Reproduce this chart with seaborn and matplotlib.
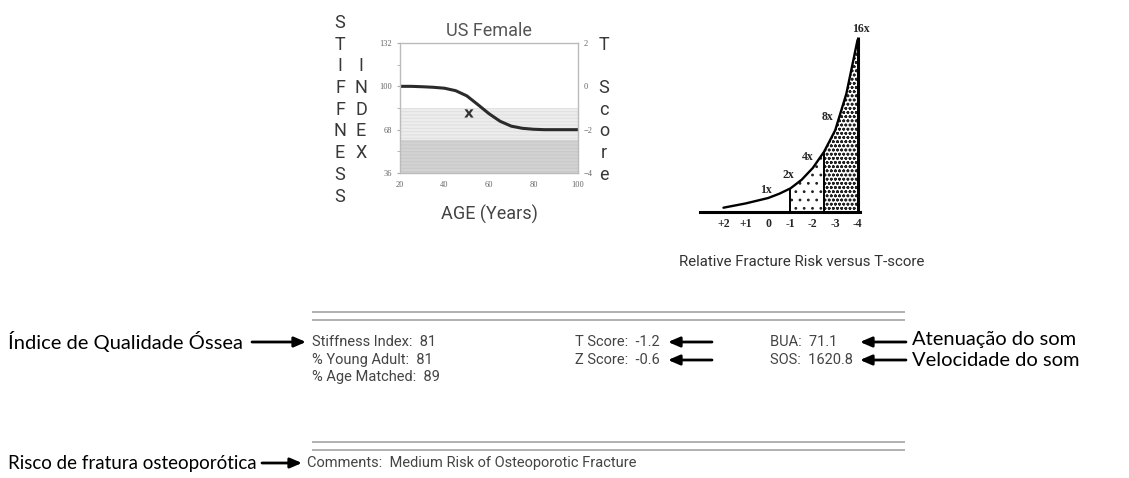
import matplotlib
matplotlib.use("Agg")
import matplotlib.pyplot as plt
from matplotlib import font_manager
import seaborn as sns

# --- reference curve of the stiffness index (US female) ---
ref_age = [20, 25, 30, 35, 40, 45, 50, 55, 60, 65, 70, 75, 80, 85, 90, 95, 100]
ref_stiffness = [100, 100, 99.7, 99.3, 98.6, 96.8, 93, 86.5, 79.8, 74.2, 70.6, 69, 68.3, 68, 68, 68, 68]
patient_age = [51]
patient_stiffness = [80]
stiff_ticks = [36, 68, 100, 132]
age_ticks = [20, 40, 60, 80, 100]
tscore_ticks = [-4, -2, 0, 2]
osteopenia_band = (60, 84)
osteoporosis_band = (36, 60)

# --- relative fracture risk versus T-score ---
risk_t = [2, 1.5, 1, 0.5, 0, -0.5, -1, -1.5, -2, -2.5, -3, -3.5, -4]
risk_val = [0.4, 0.6, 0.8, 1.05, 1.3, 1.7, 2.2, 3.0, 4.1, 5.6, 7.6, 11.0, 16.0]
risk_tick_t = [2, 1, 0, -1, -2, -3, -4]
risk_tick_labels = ["+2", "+1", "0", "-1", "-2", "-3", "-4"]
risk_mark_t = [0.1, -0.9, -1.75, -2.65, -4.15]
risk_mark_val = [2.0, 3.4, 5.1, 8.8, 17.0]
risk_mark_labels = ["1x", "2x", "4x", "8x", "16x"]

# --- report values ---
col1_labels = ["Stiffness Index:", "% Young Adult:", "% Age Matched:"]
col1_values = ["81", "81", "89"]
col2_labels = ["T Score:", "Z Score:"]
col2_values = ["-1.2", "-0.6"]
col3_labels = ["BUA:", "SOS:"]
col3_values = ["71.1", "1620.8"]
comment_text = "Comments:  Medium Risk of Osteoporotic Fracture"
note_index = "Índice de Qualidade Óssea"
note_bua = "Atenuação do som"
note_sos = "Velocidade do som"
note_risk = "Risco de fratura osteoporótica"

W, H = 1129, 478

sns.set_style("white")
avail = {f.name for f in font_manager.fontManager.ttflist}
NARROW = "Liberation Sans Narrow" if "Liberation Sans Narrow" in avail else "Roboto"
CALIBRI = "Lato" if "Lato" in avail else "Open Sans"
SERIF = "Liberation Serif"
plt.rcParams["font.family"] = [NARROW, "DejaVu Sans"]
plt.rcParams["hatch.linewidth"] = 0.8

fig = plt.figure(figsize=(W / 100, H / 100), dpi=100)


def px_axes(left, top, right, bottom):
    return fig.add_axes([left / W, 1 - bottom / H, (right - left) / W, (bottom - top) / H])


# overlay in pixel coordinates for the text of the report
bg = fig.add_axes([0, 0, 1, 1])
bg.set_xlim(0, W)
bg.set_ylim(H, 0)
bg.axis("off")

# ---------------- left chart ----------------
ax = px_axes(400, 43, 578, 173)
ax.axhspan(*osteopenia_band, facecolor="#ededed", edgecolor="#e0e0e0", hatch="-----", lw=0)
ax.axhspan(*osteoporosis_band, facecolor="#d3d3d3", edgecolor="#cacaca", hatch="-----", lw=0)
sns.lineplot(x=ref_age, y=ref_stiffness, ax=ax, color="#2b2b2b", lw=2.2)
sns.scatterplot(x=patient_age, y=patient_stiffness, ax=ax, marker=r"$\mathbf{x}$",
                s=45, color="#333333", edgecolor="none")
ax.set_xlim(20, 100)
ax.set_ylim(36, 132)
ax.set_xticks(age_ticks)
ax.set_xticks(range(20, 101, 10), minor=True)
ax.set_yticks(stiff_ticks)
ax.set_yticks(range(36, 133, 16), minor=True)
for s in ax.spines.values():
    s.set_color("#bbbbbb")
    s.set_linewidth(1.0)
ax.tick_params(which="both", length=2.5, color="#aaaaaa", labelsize=6,
               labelcolor="#666666", pad=3)
for lab in ax.get_xticklabels() + ax.get_yticklabels():
    lab.set_family(SERIF)
ax.set_title("US Female", fontsize=13, color="#555555", pad=5)
ax.set_xlabel("AGE (Years)", fontsize=13, color="#444444", labelpad=12)

ax2 = ax.twinx()
ax2.set_ylim(-4, 2)
ax2.set_yticks(tscore_ticks)
ax2.tick_params(length=0, labelsize=6, labelcolor="#666666", pad=4)
for lab in ax2.get_yticklabels():
    lab.set_family(SERIF)
for s in ax2.spines.values():
    s.set_visible(False)

row0, step = 23, 21.7
letter_kw = dict(fontsize=13, color="#383838", ha="center", va="center")
for i, ch in enumerate("STIFFNESS"):
    bg.text(340, row0 + i * step, ch, **letter_kw)
for i, ch in enumerate("INDEX"):
    bg.text(361, row0 + (i + 2) * step, ch, **letter_kw)
for i, ch in enumerate("T Score"):
    bg.text(604, row0 + (i + 1) * step, ch, **letter_kw)

# ---------------- right chart ----------------
rx = px_axes(700, 20, 862, 212)
rx.set_xlim(3.05, -4.2)
rx.set_ylim(0, 17.86)
sel1 = [i for i, t in enumerate(risk_t) if -2.5 <= t <= -1]
sel2 = [i for i, t in enumerate(risk_t) if -4 <= t <= -2.5]
rx.fill_between([risk_t[i] for i in sel1], [risk_val[i] for i in sel1], 0,
                facecolor="white", edgecolor="#222222", hatch="..", lw=0)
rx.fill_between([risk_t[i] for i in sel2], [risk_val[i] for i in sel2], 0,
                facecolor="white", edgecolor="#222222", hatch="oooo", lw=0)
sns.lineplot(x=risk_t, y=risk_val, ax=rx, color="black", lw=1.7, sort=False)
rx.vlines([risk_t[i] for i in (sel1[0], sel2[0])],
          0, [risk_val[i] for i in (sel1[0], sel2[0])], color="black", lw=1.4)
rx.vlines(risk_t[-1], 0, risk_val[-1] * 1.02, color="black", lw=2.2)
for s in ["top", "right", "left"]:
    rx.spines[s].set_visible(False)
rx.spines["bottom"].set_bounds(-4.1, 3.05)
rx.spines["bottom"].set_linewidth(2.2)
rx.spines["bottom"].set_color("black")
rx.set_yticks([])
rx.set_xticks(risk_tick_t, risk_tick_labels)
rx.tick_params(axis="x", length=0, pad=4, labelsize=8.5)
for lab in rx.get_xticklabels():
    lab.set_family(SERIF)
    lab.set_fontweight("bold")
for t, v, lab in zip(risk_mark_t, risk_mark_val, risk_mark_labels):
    rx.text(t, v, lab, fontsize=8.5, family=SERIF, fontweight="bold", ha="center", va="center")

bg.text(802, 262, "Relative Fracture Risk versus T-score", fontsize=10.8, color="#333333",
        ha="center", va="center")

# ---------------- report ----------------
line_kw = dict(color="#aaaaaa", lw=1.3)
bg.hlines([312, 320], 312, 905, **line_kw)
bg.hlines([442, 450], 312, 905, **line_kw)

rep_kw = dict(fontsize=10.5, color="#444444", va="center")
rows = [342, 360, 377]
for y, lab, val in zip(rows, col1_labels, col1_values):
    bg.text(312, y, f"{lab}  {val}", **rep_kw)
for y, lab, val in zip(rows, col2_labels, col2_values):
    bg.text(575, y, f"{lab}  {val}", **rep_kw)
for y, lab, val in zip(rows, col3_labels, col3_values):
    bg.text(770, y, f"{lab}  {val}", **rep_kw)
bg.text(307, 463, comment_text, **rep_kw)

note_kw = dict(color="black", va="center", family=[CALIBRI, "DejaVu Sans"])
bg.text(8, 342, note_index, fontsize=14.5, **note_kw)
bg.text(912, 340, note_bua, fontsize=14.5, **note_kw)
bg.text(912, 361, note_sos, fontsize=14.5, **note_kw)
bg.text(8, 463, note_risk, fontsize=13.5, **note_kw)

arrow_kw = dict(arrowstyle="-|>,head_length=0.7,head_width=0.3", color="black", lw=2,
                shrinkA=0, shrinkB=0)
bg.annotate("", xy=(306, 342), xytext=(252, 342), arrowprops=arrow_kw)
bg.annotate("", xy=(302, 463), xytext=(262, 463), arrowprops=arrow_kw)
for y in rows[:2]:
    bg.annotate("", xy=(668, y), xytext=(712, y), arrowprops=arrow_kw)
    bg.annotate("", xy=(860, y), xytext=(906, y), arrowprops=arrow_kw)

fig.savefig("out.png", dpi=100)
